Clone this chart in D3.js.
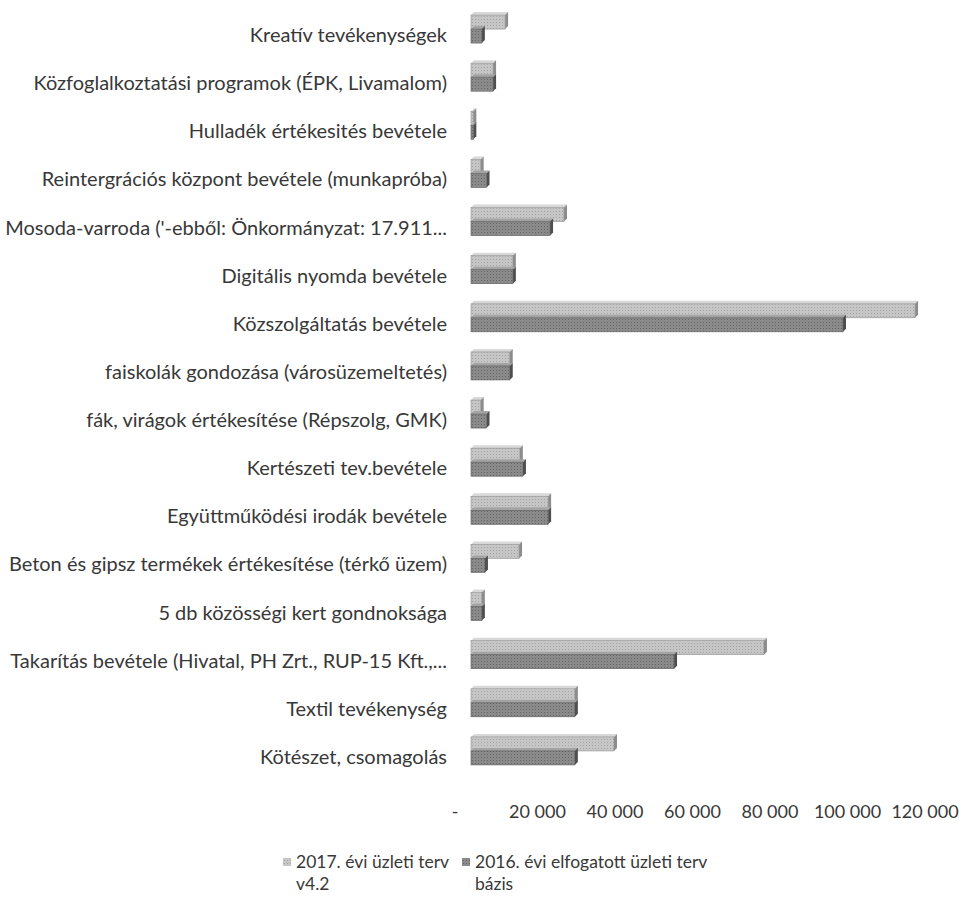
<!DOCTYPE html>
<html>
<head>
<meta charset="utf-8">
<script src="https://cdn.jsdelivr.net/npm/d3@7"></script>
<style>
    body { margin: 0; background: #fff; }
    svg text { font-family: Lato, "Open Sans", sans-serif; fill: #383838; }
</style>
</head>
<body>
<div class="chart"></div>
<script>
const categories = [
    "Kreatív tevékenységek",
    "Közfoglalkoztatási programok (ÉPK, Livamalom)",
    "Hulladék értékesités bevétele",
    "Reintergrációs központ bevétele (munkapróba)",
    "Mosoda-varroda ('-ebből: Önkormányzat: 17.911...",
    "Digitális nyomda bevétele",
    "Közszolgáltatás bevétele",
    "faiskolák gondozása (városüzemeltetés)",
    "fák, virágok értékesítése (Répszolg, GMK)",
    "Kertészeti tev.bevétele",
    "Együttműködési irodák bevétele",
    "Beton és gipsz termékek értékesítése (térkő üzem)",
    "5 db közösségi kert gondnoksága",
    "Takarítás bevétele (Hivatal, PH Zrt.,  RUP-15 Kft.,...",
    "Textil tevékenység",
    "Kötészet, csomagolás"
];

const plan2017 = [8800, 5700, 600, 2500, 24000, 10800, 114600, 10000, 2500, 12600, 19900, 12400, 2800, 75600, 26800, 36900];
const base2016 = [2800, 5700, 600, 4000, 20400, 10800, 96000, 10000, 4000, 13400, 19900, 3600, 2800, 52400, 26800, 26800];

const tickValues = [0, 20000, 40000, 60000, 80000, 100000, 120000];
const seriesNames = [
    ["2017. évi üzleti terv", "v4.2"],
    ["2016. évi elfogatott üzleti terv", "bázis"]
];

const width = 972;
const height = 904;

const svg = d3.select(".chart")
.append("svg")
.attr("width", width)
.attr("height", height);

// halftone-ish fills, the original is a scan
const defs = svg.append("defs");
const makePattern = (id, base, dot) => {
    const p = defs.append("pattern")
    .attr("id", id)
    .attr("width", 3)
    .attr("height", 3)
    .attr("patternUnits", "userSpaceOnUse");
    p.append("rect").attr("width", 3).attr("height", 3).attr("fill", base);
    p.append("rect").attr("x", 1).attr("y", 1).attr("width", 1).attr("height", 1).attr("fill", dot);
};
makePattern("light", "#c6c6c6", "#a2a2a2");
makePattern("dark", "#8a8a8a", "#666666");

const x = d3.scaleLinear()
.domain([0, 120000])
.range([460, 925]);

const y = d3.scaleBand()
.domain(categories)
.range([11, 781]);

const depth = 11; // 3D shift of the bar front face
const barH = 14;

const series = [
    { values: plan2017, fill: "url(#light)", side: "#8c8c8c", top: "#d8d8d8", edge: "#8f8f8f", off: -20 },
    { values: base2016, fill: "url(#dark)", side: "#4e4e4e", top: "#a4a4a4", edge: "#5c5c5c", off: -6 }
];

series.forEach(s => {
    const g = svg.append("g");
    const rows = g.selectAll("g")
    .data(categories.map((c, i) => ({ c, v: s.values[i] })))
    .enter()
    .append("g");

    const x0 = d => x(0) + depth;
    const x1 = d => x(d.v) + depth;
    const yTop = d => y(d.c) + y.bandwidth() / 2 + s.off;

    // top face
    rows.append("path")
    .attr("d", d => `M${x0(d)},${yTop(d)} l3,-3 L${x1(d) + 3},${yTop(d) - 3} L${x1(d)},${yTop(d)} Z`)
    .attr("fill", s.top);

    // side face
    rows.append("path")
    .attr("d", d => `M${x1(d)},${yTop(d)} l3,-3 l0,${barH} l-3,3 Z`)
    .attr("fill", s.side);

    // front face
    rows.append("rect")
    .attr("x", x0)
    .attr("y", yTop)
    .attr("width", d => x1(d) - x0(d))
    .attr("height", barH)
    .attr("fill", s.fill)
    .attr("stroke", s.edge)
    .attr("stroke-width", 0.6);
});

// category labels
svg.append("g")
.selectAll("text")
.data(categories)
.enter()
.append("text")
.attr("x", 447)
.attr("y", d => y(d) + y.bandwidth() / 2)
.attr("dy", "0.35em")
.attr("text-anchor", "end")
.style("font-size", "20px")
.text(d => d);

// value axis labels
svg.append("g")
.selectAll("text")
.data(tickValues)
.enter()
.append("text")
.attr("x", d => d === 0 ? x(d) - 5 : x(d))
.attr("y", 812)
.attr("dy", "0.35em")
.attr("text-anchor", "middle")
.style("font-size", "18px")
.text(d => d === 0 ? "-" : d3.format(",")(d).replace(/,/g, " "));

// legend
const legendX = [283, 462];
const legend = svg.append("g")
.selectAll("g")
.data(seriesNames)
.enter()
.append("g")
.attr("transform", (d, i) => `translate(${legendX[i]},862)`);

legend.append("rect")
.attr("x", 0)
.attr("y", -4)
.attr("width", 8)
.attr("height", 8)
.attr("fill", (d, i) => i === 0 ? "url(#light)" : "url(#dark)");

legend.append("text")
.style("font-size", "17.5px")
.selectAll("tspan")
.data(d => d)
.enter()
.append("tspan")
.attr("x", 13)
.attr("dy", (d, i) => i === 0 ? "0.35em" : "1.25em")
.text(d => d);
</script>
</body>
</html>
